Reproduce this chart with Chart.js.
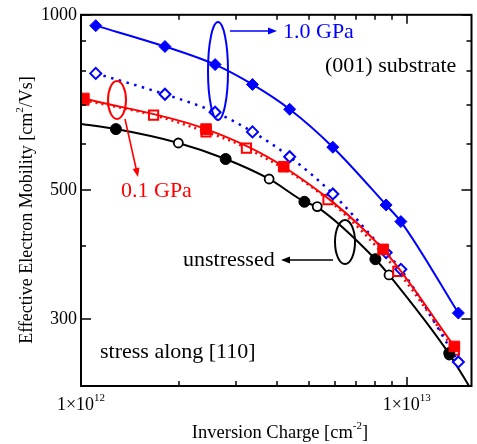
<!DOCTYPE html>
<html>
<head>
<meta charset="utf-8">
<script src="https://cdn.jsdelivr.net/npm/chart.js@4.4.1/dist/chart.umd.min.js"></script>
<style>
  html, body { margin: 0; padding: 0; background: #fff; overflow: hidden; }
  #wrap { position: relative; width: 480px; height: 444px; }
</style>
</head>
<body>
<div id="wrap"><canvas id="chart"></canvas></div>
<script>
// inversion charge [cm^-2] and mobility [cm^2/Vs]

// 1.0 GPa (diamonds)
const gpa10Charge = [1.11e12, 1.81e12, 2.58e12, 3.36e12, 4.37e12, 5.93e12, 8.64e12, 9.59e12, 1.44e13];
const gpa10Solid = [958, 882, 821, 759, 688, 592, 471, 441, 307];
const gpa10Dotted = [793, 730, 680, 629, 570, 492, 390, 365, 253];

// 0.1 GPa (squares)
const gpa01SolidCharge = [1.02e12, 2.42e12, 4.19e12, 8.46e12, 1.40e13];
const gpa01Solid = [718, 636, 548, 395, 269];
const gpa01DottedCharge = [1.02e12, 1.67e12, 2.42e12, 3.22e12, 5.73e12, 9.39e12, 1.40e13];
const gpa01Dotted = [713, 672, 629, 590, 481, 362, 265];

// unstressed (circles)
const unstrFilledCharge = [1.28e12, 2.78e12, 4.85e12, 8.01e12, 1.35e13];
const unstrFilled = [636, 565, 477, 380, 262];
const unstrOpenCharge = [1.99e12, 3.78e12, 5.31e12, 8.82e12, 1.35e13];
const unstrOpen = [602, 522, 468, 357, 260];
// unstressed fitted curve, runs over the whole axis
const unstrCurveCharge = [1.0e12, 1.28e12, 1.99e12, 2.78e12, 3.78e12, 4.85e12, 5.31e12, 8.01e12, 8.82e12, 1.35e13, 1.56e13];
const unstrCurve = [649, 636, 602, 565, 522, 477, 467, 380, 357, 261, 229];

// axis ticks
const xTicks = [1e12, 2e12, 3e12, 4e12, 5e12, 6e12, 7e12, 8e12, 9e12, 1e13];
const xMajor = [1e12, 1e13];
const xTickExp = ['12', '13'];
const yTicks = [300, 400, 500, 600, 700, 800, 900, 1000];
const yMajor = [300, 500, 1000];

const BLUE = '#0000ff';
const RED = '#ff0000';
const BLACK = '#000000';
const FONT = "'Liberation Serif', 'Times New Roman', serif";

const pts = (q, mu) => q.map((v, i) => ({ x: v, y: mu[i] }));

function series(q, mu, opts) {
  return Object.assign({
    data: pts(q, mu),
    showLine: true,
    borderWidth: 2,
    cubicInterpolationMode: 'monotone',
    pointBorderWidth: 2,
    pointHoverRadius: 0,
  }, opts);
}

// text with superscript parts: parts = [[text, isSup], ...]
function supText(ctx, parts, x, y, size, align, color) {
  const supSize = Math.round(size * 0.62);
  let total = 0;
  parts.forEach(([t, sup]) => {
    ctx.font = (sup ? supSize : size) + 'px ' + FONT;
    total += ctx.measureText(t).width;
  });
  let cx = align === 'center' ? x - total / 2 : (align === 'right' ? x - total : x);
  ctx.fillStyle = color || BLACK;
  ctx.textAlign = 'left';
  ctx.textBaseline = 'alphabetic';
  parts.forEach(([t, sup]) => {
    ctx.font = (sup ? supSize : size) + 'px ' + FONT;
    ctx.fillText(t, cx, sup ? y - size * 0.5 : y);
    cx += ctx.measureText(t).width;
  });
}

function arrow(ctx, x1, y1, x2, y2, color) {
  const ang = Math.atan2(y2 - y1, x2 - x1);
  const len = 9, half = 3.5;
  ctx.strokeStyle = color;
  ctx.fillStyle = color;
  ctx.lineWidth = 1.6;
  ctx.beginPath();
  ctx.moveTo(x1, y1);
  ctx.lineTo(x2 - Math.cos(ang) * len * 0.8, y2 - Math.sin(ang) * len * 0.8);
  ctx.stroke();
  ctx.beginPath();
  ctx.moveTo(x2, y2);
  ctx.lineTo(x2 - Math.cos(ang) * len - Math.sin(ang) * half, y2 - Math.sin(ang) * len + Math.cos(ang) * half);
  ctx.lineTo(x2 - Math.cos(ang) * len + Math.sin(ang) * half, y2 - Math.sin(ang) * len - Math.cos(ang) * half);
  ctx.closePath();
  ctx.fill();
}

function ellipse(ctx, cx, cy, rx, ry, color) {
  ctx.strokeStyle = color;
  ctx.lineWidth = 2;
  ctx.beginPath();
  ctx.ellipse(cx, cy, rx, ry, 0, 0, Math.PI * 2);
  ctx.stroke();
}

const framePlugin = {
  id: 'frame',
  afterDraw(chart) {
    const { ctx, chartArea: a, scales } = chart;
    const xs = scales.x, ys = scales.y;
    ctx.save();

    // box
    ctx.strokeStyle = BLACK;
    ctx.lineWidth = 2;
    ctx.strokeRect(a.left, a.top, a.right - a.left, a.bottom - a.top);

    // inward ticks on all four sides
    ctx.lineWidth = 1.5;
    ctx.beginPath();
    xTicks.forEach(v => {
      const px = Math.round(xs.getPixelForValue(v));
      const len = xMajor.includes(v) ? 9 : 5;
      ctx.moveTo(px, a.bottom); ctx.lineTo(px, a.bottom - len);
      ctx.moveTo(px, a.top); ctx.lineTo(px, a.top + len);
    });
    yTicks.forEach(v => {
      const py = Math.round(ys.getPixelForValue(v));
      const len = yMajor.includes(v) ? 10 : 5;
      ctx.moveTo(a.left, py); ctx.lineTo(a.left + len, py);
      ctx.moveTo(a.right, py); ctx.lineTo(a.right - len, py);
    });
    ctx.stroke();

    // x tick labels 1x10^n
    xMajor.forEach((v, i) => {
      supText(ctx, [['1\u00d710', false], [xTickExp[i], true]], xs.getPixelForValue(v), a.bottom + 24, 18, 'center');
    });

    // axis titles
    supText(ctx, [['Inversion Charge [cm', false], ['-2', true], [']', false]], 280, 438, 18.5, 'center');
    ctx.save();
    ctx.translate(32, 210);
    ctx.rotate(-Math.PI / 2);
    supText(ctx, [['Effective Electron Mobility [cm', false], ['2', true], ['/Vs]', false]], 0, 0, 18, 'center');
    ctx.restore();

    // annotations
    ellipse(ctx, 218, 71, 10, 49, BLUE);
    arrow(ctx, 230, 31, 277, 31, BLUE);
    supText(ctx, [['1.0 GPa', false]], 283, 38, 22, 'left', BLUE);

    supText(ctx, [['(001) substrate', false]], 325, 72, 22, 'left');

    ellipse(ctx, 117, 100, 9, 19, RED);
    arrow(ctx, 125, 119, 138, 177, RED);
    supText(ctx, [['0.1 GPa', false]], 121, 197, 22, 'left', RED);

    ellipse(ctx, 345, 242, 10, 22, BLACK);
    arrow(ctx, 333, 260, 281, 260, BLACK);
    supText(ctx, [['unstressed', false]], 183, 266, 22, 'left');

    supText(ctx, [['stress along [110]', false]], 100, 358, 22, 'left');

    ctx.restore();
  }
};

const datasets = [
  series(gpa10Charge, gpa10Solid, {
    borderColor: BLUE, pointStyle: 'rectRot', pointRadius: 6,
    pointBackgroundColor: BLUE, pointBorderColor: BLUE, pointBorderWidth: 1,
  }),
  series(gpa01SolidCharge, gpa01Solid, {
    borderColor: RED, pointStyle: 'rect', pointRadius: 7.5,
    pointBackgroundColor: RED, pointBorderColor: RED, pointBorderWidth: 1,
  }),
  series(unstrFilledCharge, unstrFilled, {
    showLine: false, pointStyle: 'circle', pointRadius: 5.5,
    pointBackgroundColor: BLACK, pointBorderColor: BLACK, pointBorderWidth: 1,
  }),
  series(gpa10Charge, gpa10Dotted, {
    borderColor: BLUE, borderWidth: 2.5, borderDash: [2.5, 5.5],
    pointStyle: 'rectRot', pointRadius: 5.5,
    pointBackgroundColor: '#fff', pointBorderColor: BLUE,
  }),
  series(gpa01DottedCharge, gpa01Dotted, {
    borderColor: RED, borderWidth: 2.5, borderDash: [2, 4],
    pointStyle: 'rect', pointRadius: 6.5,
    pointBackgroundColor: '#fff', pointBorderColor: RED,
  }),
  series(unstrOpenCharge, unstrOpen, {
    showLine: false,
    pointStyle: 'circle', pointRadius: 4.5,
    pointBackgroundColor: '#fff', pointBorderColor: BLACK, pointBorderWidth: 1.8,
  }),
  series(unstrCurveCharge, unstrCurve, {
    borderColor: BLACK, pointRadius: 0,
  }),
];

new Chart(document.getElementById('chart'), {
  type: 'scatter',
  data: { datasets },
  options: {
    responsive: true,
    maintainAspectRatio: false,
    animation: false,
    devicePixelRatio: 1,
    layout: { padding: { top: 13, right: 2, left: 0, bottom: 0 } },
    plugins: { legend: { display: false }, tooltip: { enabled: false } },
    events: [],
    scales: {
      x: {
        type: 'logarithmic',
        min: 1e12,
        max: 1.58e13,
        grid: { display: false, drawTicks: false },
        border: { display: false },
        ticks: { display: false },
        afterBuildTicks: s => { s.ticks = xTicks.map(v => ({ value: v })); },
        afterFit: s => { s.height = 58; },
      },
      y: {
        type: 'logarithmic',
        min: 230,
        max: 1000,
        grid: { display: false, drawTicks: false },
        border: { display: false },
        afterBuildTicks: s => { s.ticks = yTicks.map(v => ({ value: v })); },
        ticks: {
          autoSkip: false,
          padding: 4,
          color: BLACK,
          font: { family: FONT, size: 18 },
          callback: v => (yMajor.includes(v) ? String(v) : ''),
        },
        afterFit: s => { s.width = 81; },
      },
    },
  },
  plugins: [framePlugin],
});
</script>
</body>
</html>
